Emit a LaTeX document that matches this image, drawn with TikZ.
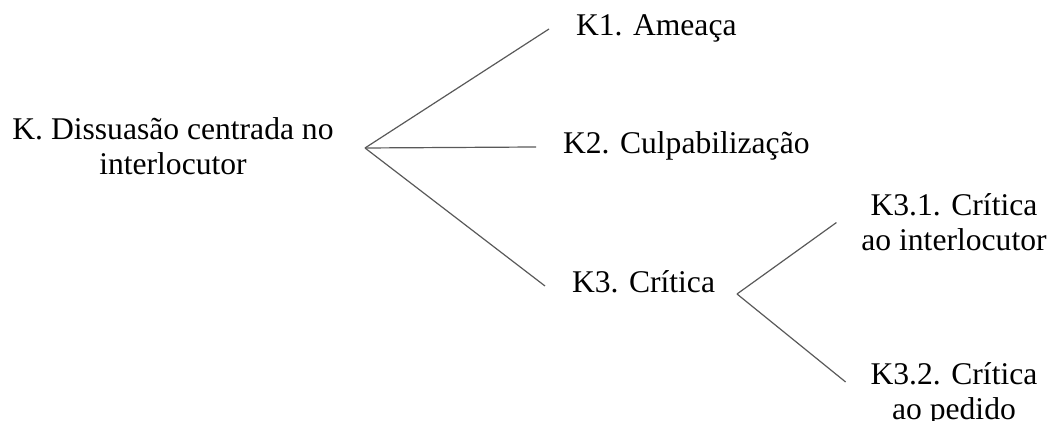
\documentclass[tikz,border=0pt]{standalone}
\usepackage{fontspec}
\setmainfont{Liberation Serif}
\begin{document}
\begin{tikzpicture}[
  x=0.5pt, y=-0.5pt,
  every node/.style={font=\fontsize{15.8}{17.5}\selectfont},
  raiz/.style={
    inner sep=0pt,
    align=center,
    anchor=north,
  },
  ramo/.style={
    inner sep=0pt,
    outer xsep=13.5pt,
    anchor=west,
    text height=0.68em,
    text depth=0pt,
  },
  subramo/.style={
    inner sep=0pt,
    outer xsep=12.5pt,
    align=center,
    anchor=north,
  },
  liga/.style={
    draw=black!65,
    line width=0.6pt,
  },
]

  \useasboundingbox (0,0) rectangle (1051,421);
  \clip (0,0) rectangle (1051,421);

  \node[raiz] (k) at (173,117.5) {K. Dissuasão centrada no\\interlocutor};

  \node[ramo] (k1) at (549,29) {K1. Ameaça};
  \node[ramo] (k2) at (536,147) {K2. Culpabilização};
  \node[ramo] (k3) at (545,286) {K3. Crítica};

  \node[subramo] (k31) at (954,193.5) {K3.1. Crítica\\ao interlocutor};
  \node[subramo] (k32) at (954,362.5) {K3.2. Crítica\\ao pedido};

  \coordinate (kfork) at (365,148);
  \coordinate (k3fork) at (737,294);

  \draw[liga] (kfork) -- (k1.west);
  \draw[liga] (kfork) -- (k2.west);
  \draw[liga] (kfork) -- (k3.west);
  \draw[liga] (k3fork) -- (k31.west);
  \draw[liga] (k3fork) -- ([yshift=-9.75pt]k32.north west);

\end{tikzpicture}
\end{document}
